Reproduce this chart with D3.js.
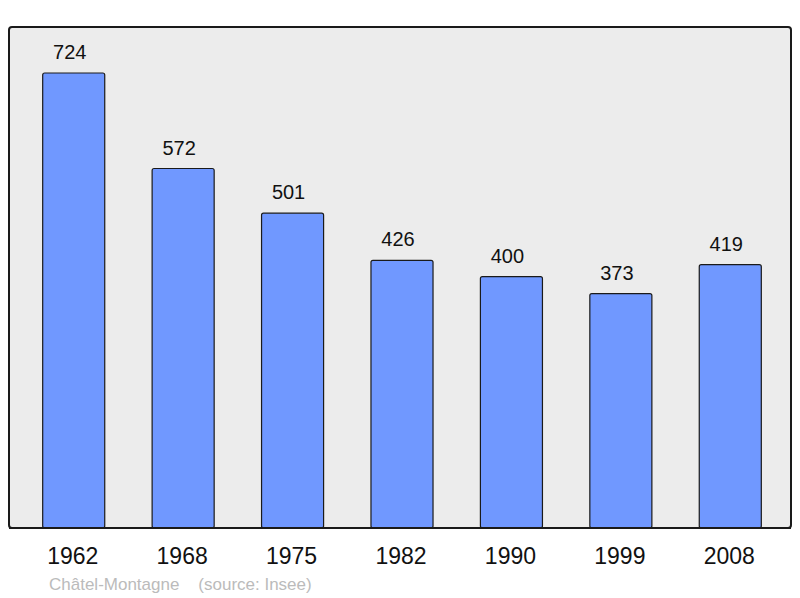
<!DOCTYPE html>
<html>
<head>
<meta charset="utf-8">
<script src="https://cdn.jsdelivr.net/npm/d3@7"></script>
<style>
  body { margin: 0; background: #fff; }
  text { font-family: "Liberation Sans", Arial, sans-serif; }
</style>
</head>
<body>
<div id="chart-area"></div>
<script>
const years = ["1962", "1968", "1975", "1982", "1990", "1999", "2008"]
const population = [724, 572, 501, 426, 400, 373, 419]
const commune = "Châtel-Montagne"
const source = "(source: Insee)"

const svg = d3.select("#chart-area")
    .append("svg")
    .attr("width", 800)
    .attr("height", 598)

// panel background
svg.append("rect")
    .attr("x", 9)
    .attr("y", 27)
    .attr("width", 782)
    .attr("height", 501)
    .attr("rx", 3)
    .attr("fill", "#ececec")
    .attr("stroke", "#1a1a1a")
    .attr("stroke-width", 2)

const x = d3.scaleBand()
    .domain(years)
    .range([19, 785])
    .paddingInner(0.433)
    .paddingOuter(0.2165)

const y = d3.scaleLinear()
    .domain([0, d3.max(population)])
    .range([528, 73])

const data = years.map((yr, i) => ({ year: yr, value: population[i] }))

svg.selectAll("rect.bar")
    .data(data)
    .enter().append("rect")
    .attr("class", "bar")
    .attr("x", d => x(d.year))
    .attr("y", d => y(d.value))
    .attr("width", x.bandwidth())
    .attr("height", d => 528 - y(d.value))
    .attr("rx", 2)
    .attr("fill", "#7098ff")
    .attr("stroke", "#1a1a1a")
    .attr("stroke-width", 1.2)

// value labels (sit a little left of bar centre, as in the original)
svg.selectAll("text.val")
    .data(data)
    .enter().append("text")
    .attr("class", "val")
    .attr("x", d => x(d.year) + x.bandwidth() / 2 - 4)
    .attr("y", d => y(d.value) - 14)
    .attr("text-anchor", "middle")
    .attr("font-size", 20)
    .attr("fill", "#111")
    .text(d => d.value)

// redraw bottom border over bars
svg.append("line")
    .attr("x1", 9).attr("x2", 791)
    .attr("y1", 528).attr("y2", 528)
    .attr("stroke", "#1a1a1a")
    .attr("stroke-width", 2)

// year axis
const xAxisCall = d3.axisBottom(x).tickSize(0).tickPadding(0)
const xAxis = svg.append("g")
    .attr("class", "x axis")
    .attr("transform", "translate(0, 548)")
    .call(xAxisCall)
xAxis.select(".domain").remove()
xAxis.selectAll("text")
    .attr("font-size", 23)
    .attr("font-family", "Liberation Sans, Arial, sans-serif")
    .attr("fill", "#111")
    .attr("dx", "-1")
    .attr("dy", "0.71em")

svg.append("text")
    .attr("x", 49)
    .attr("y", 590)
    .attr("font-size", 17)
    .attr("fill", "#bbbbbb")
    .attr("xml:space", "preserve")
    .text(commune + "    " + source)
</script>
</body>
</html>
